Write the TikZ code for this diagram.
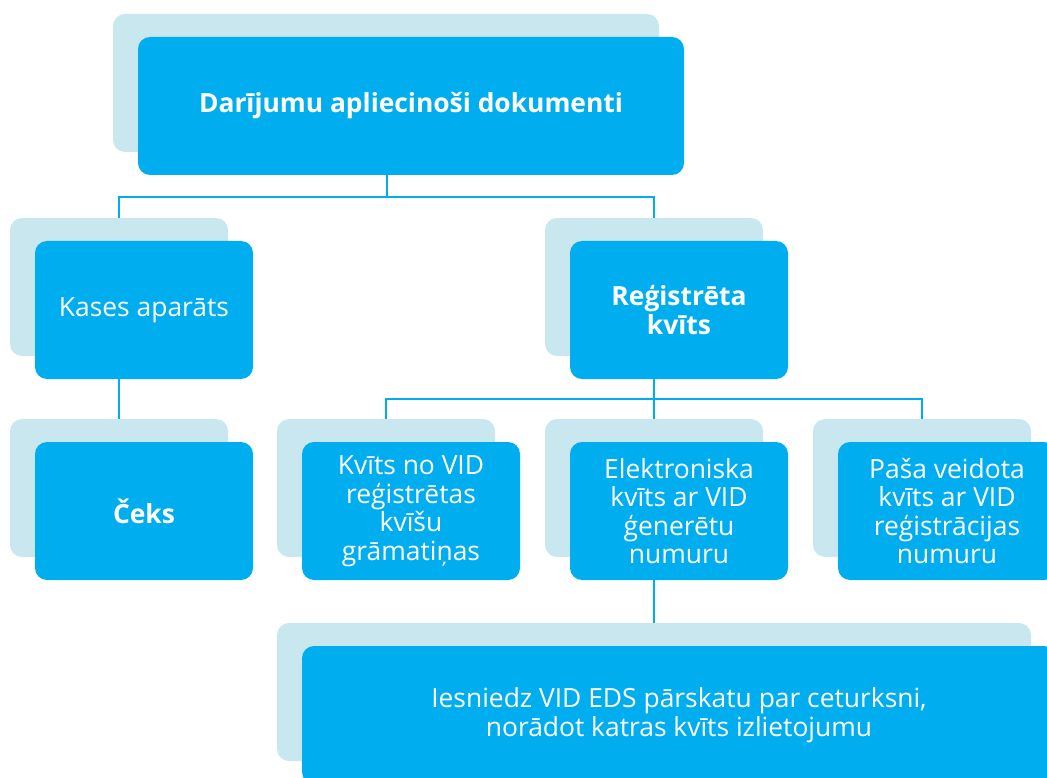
\documentclass[tikz,border=0pt]{standalone}
\usepackage{fontspec}
\setmainfont{Open Sans}
\usetikzlibrary{shadows,calc}

\definecolor{boxblue}{HTML}{00AEEF}
\definecolor{shadeblue}{HTML}{C9E7EF}

\begin{document}
\begin{tikzpicture}[x=1pt, y=-1pt,
  card/.style={rectangle, rounded corners=12pt, fill=boxblue, text=white,
    align=center, inner sep=0pt, minimum width=218pt, minimum height=138pt,
    font=\fontsize{26.4}{28.5}\selectfont,
    general shadow={fill=shadeblue, shadow xshift=-25pt, shadow yshift=23pt}},
  head/.style={font=\fontsize{26.4}{28.5}\selectfont\bfseries},
  link/.style={draw=boxblue, line width=2pt}]

  \clip (0,0) rectangle (1047,778);

  %% Top level
  \node[card, head, minimum width=546pt] (docs) at (411,106) {Darījumu apliecinoši dokumenti};

  %% Second level
  \node[card] (kase) at (144,310) {Kases aparāts};
  \node[card, head] (regkv) at (679,310) {Reģistrēta\\kvīts};

  %% Third level
  \node[card, head] (ceks) at (144,511) {Čeks};
  \node[card] (kv1) at (411,511) {Kvīts no VID\\reģistrētas\\kvīšu\\grāmatiņas};
  \node[card] (kv2) at (679,511) {Elektroniska\\kvīts ar VID\\ģenerētu\\numuru};
  \node[card] (kv3) at (947,511) {Paša veidota\\kvīts ar VID\\reģistrācijas\\numuru};

  %% Quarterly report
  \node[card, minimum width=754pt] (eds) at (679,715)
    {Iesniedz VID EDS pārskatu par ceturksni,\\norādot katras kvīts izlietojumu};

  % links come in at the top middle of each shadow
  \foreach \n in {kase,regkv,ceks,kv1,kv2,kv3,eds}
    \coordinate (\n-in) at ([xshift=-25pt,yshift=23pt]\n.north);

  % Links
  \coordinate (bus1) at ($(kase-in)!.5!(regkv-in) + (0,-21)$);
  \draw[link] (docs.south -| bus1) -- (bus1);
  \draw[link] (kase-in) |- (bus1) -| (regkv-in);

  \draw[link] (kase.south -| ceks-in) -- (ceks-in);

  \coordinate (bus2) at ($(kv2-in) + (0,-20)$);
  \draw[link] (regkv.south -| kv2-in) -- (kv2-in);
  \draw[link] (kv1-in) |- (bus2) -| (kv3-in);

  \draw[link] (kv2.south -| eds-in) -- (eds-in);

\end{tikzpicture}
\end{document}
